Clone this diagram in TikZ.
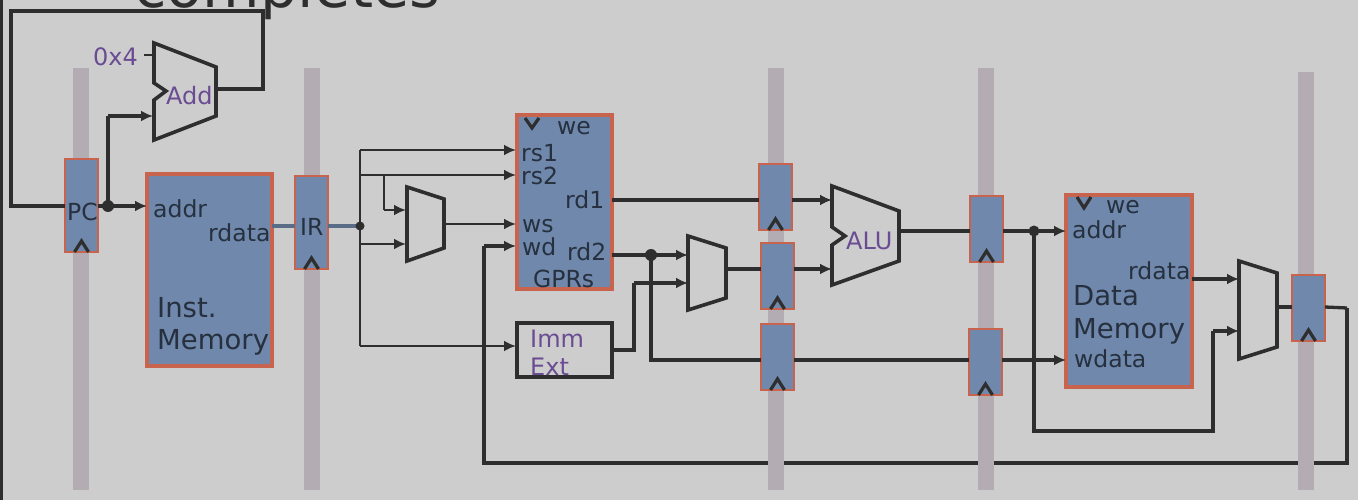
\documentclass[tikz,border=0pt]{standalone}
\usepackage{fontspec}
\setmainfont{DejaVu Sans}
\usetikzlibrary{arrows.meta}
\definecolor{bgc}{HTML}{CDCDCD}
\definecolor{barc}{HTML}{B3ADB3}
\definecolor{blk}{HTML}{6F88AB}
\definecolor{edg}{HTML}{C8644E}
\definecolor{ink}{HTML}{2E2E2E}
\definecolor{dark}{HTML}{26303F}
\definecolor{purp}{HTML}{6A4C93}
\tikzset{
  x=1pt,y=-1pt,
  bar/.style={fill=barc,draw=none},
  blockbox/.style={fill=blk,draw=edg,line width=3.2pt,outer sep=0pt},
  regbox/.style={fill=blk,draw=edg,line width=1.6pt,outer sep=0pt},
  sigline/.style={draw=ink,line width=3.3pt,line join=miter},
  finewire/.style={draw=ink,line width=2.4pt},
  arr/.style={-{Latex[length=12pt,width=11pt]}},
  muxs/.style={draw=ink,line width=3.6pt,fill=bgc,line join=miter},
  lab/.style={text=dark,font=\fontsize{23.5}{24}\selectfont,inner sep=0pt,anchor=base west},
  biglab/.style={text=dark,font=\fontsize{27.5}{32}\selectfont,inner sep=0pt,anchor=base west},
  plab/.style={text=purp,font=\fontsize{24}{24}\selectfont,inner sep=0pt,anchor=base west},
  dot/.style={circle,fill=ink,inner sep=0pt,minimum size=12pt},
  tick/.style={draw=ink,line width=3.2pt,line join=miter}
}
\begin{document}
\begin{tikzpicture}
\path[use as bounding box] (0,0) rectangle (1358,500);
\clip (0,0) rectangle (1358,500);
\fill[bgc] (0,0) rectangle (1358,500);
\fill[ink] (0,0) rectangle (3,500);
\node[inner sep=0pt,anchor=base west,text=ink,font=\fontsize{59}{59}\selectfont] (title) at (134,8) {completes};
% pipeline bars
\fill[bar] (73,68) rectangle (89,490);
\fill[bar] (304,68) rectangle (320,490);
\fill[bar] (768,68) rectangle (784,490);
\fill[bar] (978,68) rectangle (994,490);
\fill[bar] (1298,72) rectangle (1314,490);
% bottom feedback wire
\coordinate (wdin) at (516,246);
\coordinate (fbA) at (484,463);
\coordinate (fbB) at (1347,463);
\coordinate (fbC) at (1347,308);
\draw[sigline] (fbC) -- (fbB) -- (fbA) -- (484,246);
\draw[sigline,arr] (484,246) -- (wdin);
\fill[bar] (768,455) rectangle (784,472);
\fill[bar] (978,455) rectangle (994,472);
\fill[bar] (1298,455) rectangle (1314,472);
% blocks
\node[blockbox,minimum width=125pt,minimum height=192pt,inner sep=0pt,anchor=north west] (imem) at (147,174) {};
\node[blockbox,minimum width=95pt,minimum height=174pt,inner sep=0pt,anchor=north west] (gpr) at (517,115) {};
\node[blockbox,minimum width=126pt,minimum height=192pt,inner sep=0pt,anchor=north west] (dmem) at (1066,195) {};
\node[draw=ink,line width=3.6pt,outer sep=0pt,minimum width=95pt,minimum height=54pt,inner sep=0pt,anchor=north west] (imm) at (517,323) {};
% registers
\node[regbox,minimum width=33pt,minimum height=93pt,inner sep=0pt,anchor=north west] (pc) at (65,159) {};
\node[regbox,minimum width=33pt,minimum height=93pt,inner sep=0pt,anchor=north west] (ir) at (295,176) {};
\node[regbox,minimum width=33pt,minimum height=66pt,inner sep=0pt,anchor=north west] (xa) at (759,164) {};
\node[regbox,minimum width=33pt,minimum height=66pt,inner sep=0pt,anchor=north west] (xb) at (761,243) {};
\node[regbox,minimum width=33pt,minimum height=66pt,inner sep=0pt,anchor=north west] (xc) at (761,324) {};
\node[regbox,minimum width=33pt,minimum height=66pt,inner sep=0pt,anchor=north west] (ma) at (970,196) {};
\node[regbox,minimum width=33pt,minimum height=66pt,inner sep=0pt,anchor=north west] (mb) at (969,329) {};
\node[regbox,minimum width=33pt,minimum height=66pt,inner sep=0pt,anchor=north west] (wb) at (1292,275) {};
% clock carets
\foreach \n in {pc,ir,xa,xb,xc,ma,mb,wb}{
  \draw[tick] ([xshift=-7pt]\n.south) -- ([yshift=11pt]\n.south) -- ([xshift=7pt]\n.south);
}
\draw[tick] (525,118) -- (532,128) -- (539,118);
\draw[tick] (1077,197) -- (1084,208) -- (1091,197);
% adder, muxes, ALU
\draw[muxs] (154,43) -- (216,67) -- (216,116) -- (154,140) -- (154,100) -- (166,91) -- (154,83) -- cycle;
\coordinate (addOut) at (216,89);
\coordinate (addIn) at (154,116);
\draw[muxs] (407,187) -- (444,199) -- (444,248) -- (407,261) -- cycle;
\draw[muxs] (688,236) -- (726,248) -- (726,298) -- (688,310) -- cycle;
\draw[muxs] (832,186) -- (899,211) -- (899,261) -- (832,285) -- (832,245) -- (845,236) -- (832,227) -- cycle;
\draw[muxs] (1239,261) -- (1277,273) -- (1277,347) -- (1239,359) -- cycle;
% PC loop
\coordinate (dotpc) at (108,206);
\draw[sigline] (pc.west |- dotpc) -- (11,206) -- (11,11) -- (263,11) -- (263,89) -- (addOut);
\draw[sigline,arr] (pc.east |- dotpc) -- (imem.west |- dotpc);
\draw[sigline] (dotpc) -- (108,116);
\draw[sigline,arr] (108,116) -- (153,116);
\node[dot] (dA) at (dotpc) {};
\draw[draw=ink,line width=1.8pt] (144,55) -- (154,55);
% IR to decode
\coordinate (dotir) at (360,226);
\draw[draw=blk!80!black,line width=3.4pt] (imem.east |- dotir) -- (ir.west |- dotir);
\draw[draw=blk!80!black,line width=3.4pt] (ir.east |- dotir) -- (dotir);
\draw[finewire] (360,150) -- (360,346);
\draw[finewire,arr] (360,150) -- (516,150);
\draw[finewire,arr] (360,175) -- (516,175);
\draw[finewire] (384,175) -- (384,210);
\draw[finewire,arr] (384,210) -- (406,210);
\draw[finewire,arr] (360,244) -- (406,244);
\draw[finewire,arr] (444,224) -- (516,224);
\draw[finewire,arr] (360,346) -- (516,346);
\node[dot,minimum size=9pt] (dB) at (dotir) {};
% register read
\draw[sigline] (gpr.east |- 0,200) -- (xa.west |- 0,200);
\draw[sigline,arr] (xa.east |- 0,200) -- (832,200);
\coordinate (dotrd) at (651,255);
\draw[sigline,arr] (gpr.east |- dotrd) -- (688,255);
\draw[sigline] (dotrd) -- (651,360) -- (xc.west |- 0,360);
\draw[sigline] (imm.east |- 0,350) -- (634,350) -- (634,283);
\draw[sigline,arr] (634,283) -- (688,283);
\node[dot] (dC) at (dotrd) {};
\draw[sigline] (726,269) -- (xb.west |- 0,269);
\draw[sigline,arr] (xb.east |- 0,269) -- (832,269);
% alu out
\draw[sigline] (899,231) -- (ma.west |- 0,231);
\coordinate (dotalu) at (1034,231);
\draw[sigline,arr] (ma.east |- dotalu) -- (dmem.west |- dotalu);
\draw[sigline] (dotalu) -- (1034,431) -- (1213,431) -- (1213,331);
\draw[sigline,arr] (1213,331) -- (1239,331);
\node[dot,minimum size=11pt] (dD) at (dotalu) {};
\draw[sigline] (xc.east |- 0,360) -- (mb.west |- 0,360);
\draw[sigline,arr] (mb.east |- 0,360) -- (dmem.west |- 0,360);
\draw[sigline,arr] (dmem.east |- 0,279) -- (1239,279);
\draw[sigline] (1277,307) -- (wb.west |- 0,307);
\draw[sigline] (wb.east |- 0,307) -- (fbC);
% labels
\node[plab] (l0) at (93,66) {0x4};
\node[plab] (lAdd) at (166,105) {Add};
\node[lab] (lPC) at (67,220) {PC};
\node[lab] (lIR) at (300,235) {IR};
\node[lab] (laddr) at (153,218) {addr};
\node[lab] (lrdata) at (208,241) {rdata};
\node[biglab] (lInst) at (157,317) {Inst.};
\node[biglab] (lMem) at (157,349) {Memory};
\node[lab] (lwe) at (557,135) {we};
\node[lab] (lrs1) at (521,161) {rs1};
\node[lab] (lrs2) at (521,185) {rs2};
\node[lab] (lrd1) at (565,208) {rd1};
\node[lab] (lws) at (522,232) {ws};
\node[lab] (lwd) at (522,255) {wd};
\node[lab] (lrd2) at (567,260) {rd2};
\node[lab] (lgpr) at (533,287) {GPRs};
\node[plab] (lImm) at (530,347) {Imm};
\node[plab] (lExt) at (530,375) {Ext};
\node[plab] (lALU) at (846,249) {ALU};
\node[lab] (lwe2) at (1106,214) {we};
\node[lab] (laddr2) at (1072,238) {addr};
\node[lab] (lrd) at (1128,279) {rdata};
\node[biglab] (lData) at (1073,305) {Data};
\node[biglab] (lM2) at (1073,338) {Memory};
\node[lab] (lwdata) at (1074,367) {wdata};
\end{tikzpicture}
\end{document}
